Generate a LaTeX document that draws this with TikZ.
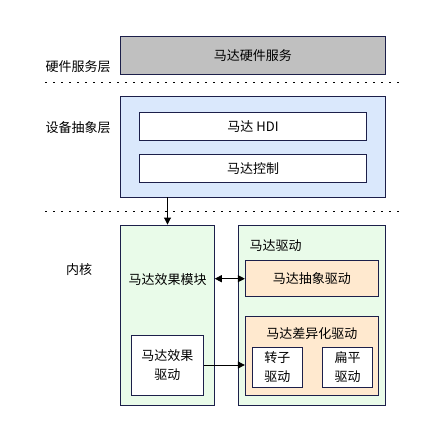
\documentclass[tikz,border=0pt]{standalone}
\usepackage{fontspec}
\newfontfamily\cjk{Noto Sans CJK SC}
\usetikzlibrary{arrows.meta}
\definecolor{edge}{HTML}{1C1F4A}
\definecolor{grayfill}{HTML}{C0C0C0}
\definecolor{bluefill}{HTML}{DAE8FC}
\definecolor{greenfill}{HTML}{E9FBE9}
\definecolor{orangefill}{HTML}{FFE9CF}
\tikzset{
  layerbox/.style={draw=edge,line width=0.9pt,inner sep=0pt},
  sep/.style={line width=0.9pt,dash pattern=on 1.5pt off 6.5pt},
  arr/.style={-{Triangle[length=7pt,width=7pt]},line width=0.9pt},
  darr/.style={{Triangle[length=7pt,width=7pt]}-{Triangle[length=7pt,width=7pt]},line width=0.9pt}
}
\begin{document}
\begin{tikzpicture}[x=1pt,y=-1pt,font=\cjk\fontsize{13}{19}\selectfont]
\useasboundingbox (0,0) rectangle (439,442);
% layer labels
\node (lhws) at (78,66.7) {硬件服务层};
\node (ldal) at (78,127.7) {设备抽象层};
\node (lkernel) at (79,269.3) {内核};
\draw[sep](45,82.7)--(403,82.7);
\draw[sep](45,211)--(400,211);
% hardware service layer
\node[layerbox,fill=grayfill,minimum width=265.7pt,minimum height=38.3pt] (hws) at (252.85,55.15) {马达硬件服务};
% device abstraction layer
\node[layerbox,fill=bluefill,minimum width=265.7pt,minimum height=100.7pt] (dal) at (252.85,146.65) {};
\node[layerbox,fill=white,minimum width=227.4pt,minimum height=27.7pt] (hdi) at (253,126.2) {马达 HDI};
\node[layerbox,fill=white,minimum width=227.4pt,minimum height=28pt] (ctl) at (253,168.3) {马达控制};
% kernel
\node[layerbox,fill=greenfill,minimum width=93.6pt,minimum height=180pt] (effmod) at (167.5,315) {};
\node (effmodtxt) at (167.5,279.3) {马达效果模块};
\node[layerbox,fill=white,minimum width=72pt,minimum height=60pt,align=center] (effdrv) at (167.3,365) {马达效果\\驱动};
\node[layerbox,fill=greenfill,minimum width=147.4pt,minimum height=180pt] (drv) at (312,315) {};
\node[anchor=west] (drvtxt) at (246,245.7) {马达驱动};
\node[layerbox,fill=orangefill,minimum width=133pt,minimum height=36pt] (absdrv) at (311.8,278.7) {马达抽象驱动};
\node[layerbox,fill=orangefill,minimum width=133pt,minimum height=78.7pt] (diffdrv) at (311.8,355.7) {};
\node (diffdrvtxt) at (311.8,333.3) {马达差异化驱动};
\node[layerbox,fill=white,minimum width=50pt,minimum height=40.3pt,align=center] (rotor) at (277.3,367.2) {转子\\驱动};
\node[layerbox,fill=white,minimum width=50.4pt,minimum height=40.3pt,align=center] (flat) at (347.5,367.2) {扁平\\驱动};
% connectors
\draw[arr](dal.south -| effmod.north)--(effmod.north);
\draw[darr](effmod.east |- absdrv.west)--(absdrv.west);
\draw[arr](effdrv.east)--(effdrv.east -| diffdrv.west);
\end{tikzpicture}
\end{document}
